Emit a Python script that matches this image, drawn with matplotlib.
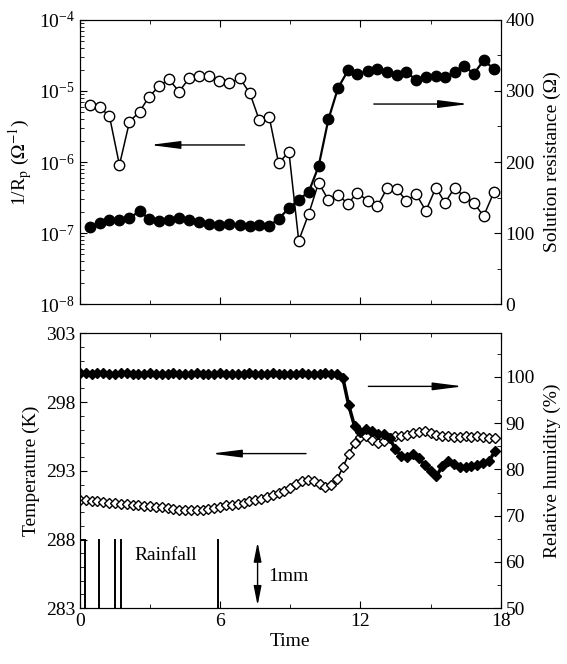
import numpy as np
import matplotlib.pyplot as plt
from matplotlib.ticker import MultipleLocator, LogLocator, NullFormatter, FixedLocator

plt.rcParams['font.family'] = ['Liberation Serif', 'DejaVu Serif']
plt.rcParams['mathtext.fontset'] = 'stix'
plt.rcParams['font.size'] = 13

# top panel: polarization (open circles) and solution resistance (filled circles)
t_top = [0.41, 0.84, 1.26, 1.69, 2.12, 2.55, 2.96, 3.39, 3.81, 4.24, 4.67, 5.10,
         5.53, 5.96, 6.39, 6.84, 7.27, 7.67, 8.10, 8.50, 8.94, 9.36, 9.79, 10.21,
         10.63, 11.04, 11.47, 11.87, 12.31, 12.73, 13.14, 13.57, 13.97, 14.38,
         14.80, 15.23, 15.62, 16.03, 16.45, 16.85, 17.27, 17.72]
inv_rp = [6.35e-6, 5.89e-6, 4.45e-6, 9.08e-7, 3.70e-6, 5.11e-6, 8.32e-6, 1.17e-5,
          1.46e-5, 9.77e-6, 1.51e-5, 1.63e-5, 1.63e-5, 1.40e-5, 1.28e-5, 1.51e-5,
          9.29e-6, 3.91e-6, 4.27e-6, 9.59e-7, 1.40e-6, 7.83e-8, 1.87e-7, 5.11e-7,
          2.92e-7, 3.43e-7, 2.59e-7, 3.72e-7, 2.84e-7, 2.40e-7, 4.27e-7, 4.12e-7,
          2.82e-7, 3.54e-7, 2.06e-7, 4.35e-7, 2.67e-7, 4.35e-7, 3.24e-7, 2.67e-7,
          1.73e-7, 3.82e-7]
sol_res = [109, 114, 119, 119, 121, 131, 120, 117, 119, 121, 119, 115,
           113, 111, 113, 111, 110, 111, 110, 120, 135, 147, 158, 194,
           260, 304, 329, 324, 328, 331, 326, 322, 326, 316, 319, 321,
           319, 326, 335, 324, 343, 331]

# bottom panel: temperature (open diamonds) and relative humidity (filled diamonds)
t_bot = np.arange(0, 18, 0.25)
temp = [290.85, 290.84, 290.82, 290.77, 290.72, 290.69, 290.64, 290.60, 290.56,
        290.51, 290.48, 290.45, 290.42, 290.38, 290.35, 290.29, 290.24, 290.18,
        290.15, 290.13, 290.14, 290.18, 290.24, 290.31, 290.38, 290.49, 290.54,
        290.61, 290.67, 290.78, 290.89, 290.98, 291.11, 291.22, 291.36, 291.55,
        291.76, 292.02, 292.27, 292.35, 292.24, 292.02, 291.84, 291.95, 292.38,
        293.25, 294.20, 295.00, 295.44, 295.55, 295.25, 295.00, 295.15, 295.36,
        295.55, 295.51, 295.58, 295.73, 295.80, 295.87, 295.73, 295.58, 295.51,
        295.55, 295.44, 295.47, 295.51, 295.47, 295.51, 295.44, 295.40, 295.36]
rh = [100.8, 100.9, 100.7, 100.8, 100.8, 100.6, 100.7, 100.8, 100.9, 100.7, 100.6,
      100.7, 100.8, 100.7, 100.6, 100.7, 100.8, 100.7, 100.6, 100.7, 100.8, 100.7,
      100.6, 100.7, 100.8, 100.7, 100.7, 100.6, 100.7, 100.8, 100.7, 100.6, 100.7,
      100.8, 100.7, 100.7, 100.6, 100.7, 100.8, 100.7, 100.6, 100.7, 100.8, 100.7,
      100.65, 99.68, 93.84, 89.31, 88.12, 88.77, 88.34, 87.69, 87.69, 86.72, 84.34,
      82.83, 82.61, 83.26, 82.40, 80.89, 79.59, 78.51, 80.67, 81.75, 81.10, 80.45,
      80.56, 80.67, 80.89, 81.32, 81.75, 83.91]

rain_t = [0.0, 0.82, 1.52, 1.77, 5.9]
rain_w = [0.22, 0.0, 0.0, 0.0, 0.0]
rain_mm = [1, 1, 1, 1, 1]
k_per_mm = 5.0

temp_ticks = [283, 288, 293, 298, 303]

fig = plt.figure(figsize=(5.67, 6.64), dpi=100)
ax1 = fig.add_axes([0.141, 0.542, 0.742, 0.428])
ax2 = fig.add_axes([0.141, 0.084, 0.742, 0.414])

arrow_kw = dict(arrowstyle='-|>,head_width=0.18,head_length=1.4',
                color='black', lw=1.0)

# ---- top
ax1.set_yscale('log')
ax1.plot(t_top, inv_rp, '-o', color='black', mfc='white', mec='black',
         ms=7.5, lw=1.1, mew=1.0, zorder=3)
ax1.set_ylim(1e-8, 1e-4)
ax1.set_xlim(0, 18)
ax1.yaxis.set_major_locator(LogLocator(base=10, numticks=10))
ax1.yaxis.set_minor_locator(LogLocator(base=10, subs=np.arange(2, 10), numticks=20))
ax1.yaxis.set_minor_formatter(NullFormatter())
ax1.set_ylabel(r'1/R$_\mathrm{p}$ ($\Omega^{\mathrm{-1}}$)', fontsize=14, labelpad=4)

ax1r = ax1.twinx()
ax1r.plot(t_top, sol_res, '-o', color='black', mfc='black', mec='black',
          ms=7.5, lw=1.6, zorder=3)
ax1r.set_ylim(0, 400)
ax1r.yaxis.set_major_locator(MultipleLocator(100))
ax1r.yaxis.set_minor_locator(MultipleLocator(50))
ax1r.set_ylabel('Solution resistance (Ω)', fontsize=14, labelpad=6)

ax1.xaxis.set_major_locator(MultipleLocator(6))
ax1.xaxis.set_minor_locator(MultipleLocator(3))
ax1.tick_params(axis='x', labelbottom=False)

ax1.annotate('', xy=(0.16, 0.56), xytext=(0.398, 0.56), xycoords='axes fraction',
             arrowprops=arrow_kw)
ax1.annotate('', xy=(0.93, 0.704), xytext=(0.692, 0.704), xycoords='axes fraction',
             arrowprops=arrow_kw)

# ---- bottom
ax2.plot(t_bot, temp, '-D', color='black', mfc='white', mec='black',
         ms=5.5, lw=1.2, mew=1.0, zorder=3)
ax2.set_ylim(283, 303)
ax2.set_xlim(0, 18)
ax2.yaxis.set_major_locator(FixedLocator(temp_ticks))
ax2.yaxis.set_minor_locator(MultipleLocator(1))
ax2.set_ylabel('Temperature (K)', fontsize=14, labelpad=4)
ax2.set_xlabel('Time', fontsize=14, labelpad=2)
ax2.xaxis.set_major_locator(MultipleLocator(6))
ax2.xaxis.set_minor_locator(MultipleLocator(3))

for rt, rw, mm in zip(rain_t, rain_w, rain_mm):
    top = 283 + mm * k_per_mm
    ax2.plot([rt, rt], [283, top], color='black', lw=1.4)
    if rw > 0:
        ax2.plot([rt + rw, rt + rw], [283, top], color='black', lw=1.4)
        ax2.plot([rt, rt + rw], [top, top], color='black', lw=1.4)
ax2.text(2.35, 286.8, 'Rainfall', fontsize=14, va='center', ha='left')
ax2.annotate('', xy=(7.6, 283 + k_per_mm), xytext=(7.6, 283),
             arrowprops=dict(arrowstyle='<|-|>,head_width=0.18,head_length=0.9',
                             color='black', lw=1.0))
ax2.text(8.05, 285.3, '1mm', fontsize=14, va='center', ha='left')

ax2r = ax2.twinx()
ax2r.plot(t_bot, rh, '-D', color='black', mfc='black', mec='black',
          ms=5.5, lw=2.5, zorder=3)
ax2r.set_ylim(50, 109.4)
ax2r.yaxis.set_major_locator(MultipleLocator(10))
ax2r.yaxis.set_minor_locator(MultipleLocator(5))
ax2r.set_ylabel('Relative humidity (%)', fontsize=14, labelpad=6)

ax2.annotate('', xy=(0.306, 0.5625), xytext=(0.544, 0.5625), xycoords='axes fraction',
             arrowprops=arrow_kw)
ax2.annotate('', xy=(0.917, 0.807), xytext=(0.679, 0.807), xycoords='axes fraction',
             arrowprops=arrow_kw)

for a in (ax1, ax1r, ax2, ax2r):
    a.tick_params(which='both', direction='in', labelsize=14)
    a.tick_params(which='major', length=5)
    a.tick_params(which='minor', length=3)
for a in (ax1, ax2):
    a.tick_params(axis='x', which='both', top=True)

fig.savefig('out.png', dpi=100)
